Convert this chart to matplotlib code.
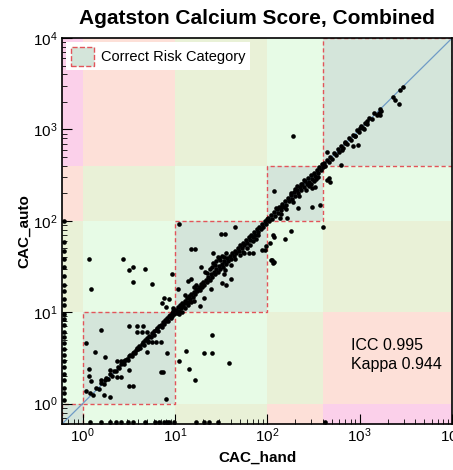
import numpy as np
import matplotlib
matplotlib.use("Agg")
import matplotlib.pyplot as plt
from matplotlib.patches import Rectangle, Patch

plt.rcParams['font.family'] = ['Liberation Sans', 'DejaVu Sans']
plt.rcParams['mathtext.fontset'] = 'custom'
plt.rcParams['mathtext.rm'] = 'Liberation Sans'

# risk category bounds (0, 1-10, 10-100, 100-400, >400)
bounds = [0.6, 1, 10, 100, 400, 10000]
zero_value = 0.63   # where a score of 0 is drawn on the log axes

# points close to agreement
diag_hand = [1.2, 1.3, 1.4, 1.5, 1.6, 1.7, 1.8, 1.9, 2.0, 2.1, 2.2, 2.3, 2.4, 2.5, 2.6, 2.7, 2.8, 2.9,
             3.0, 3.1, 3.2, 3.3, 3.4, 3.5, 3.6, 3.7, 3.8, 3.9, 4.0, 4.1, 4.2, 4.4, 4.5, 4.6, 4.8, 5.0,
             5.1, 5.3, 5.5, 5.7, 5.9, 6.0, 6.2, 6.4, 6.6, 6.8, 7.0, 7.2, 7.4, 7.6, 7.8, 8.0, 8.2, 8.4,
             8.6, 8.8, 9.0, 9.2, 9.4, 9.6, 9.8,
             10.2, 10.5, 10.8, 11.0, 11.3, 11.6, 12.0, 12.3, 12.7, 13.0, 13.4, 13.8, 14.2, 14.6, 15.0,
             15.5, 16.0, 16.5, 17.0, 17.5, 18.0, 18.5, 19.0, 19.6, 20.2, 20.8, 21.5, 22.2, 23.0, 23.8,
             24.6, 25.4, 26.3, 27.2, 28.1, 29.0, 30.0, 31.0, 32.0, 33.0, 34.2, 35.4, 36.6, 37.8, 39.0,
             40.4, 41.8, 43.2, 44.7, 46.2, 47.8, 49.4, 51.1, 52.9, 54.7, 56.6, 58.5, 60.5, 62.6, 64.7,
             66.9, 69.2, 71.6, 74.0, 76.5, 79.1, 81.8, 84.6, 87.5, 90.5, 93.6, 96.8, 99.0,
             28, 30, 32, 34, 27, 31, 25, 22, 24, 36, 26, 29,
             45, 55, 60, 70, 80, 50, 40, 65, 75, 35,
             11, 12, 13, 14, 9.5, 15, 13, 16, 17,
             102, 105, 109, 113, 117, 121, 126, 130, 135, 140, 145, 150, 156, 161, 167, 173, 180, 186,
             193, 200, 207, 215, 223, 231, 239, 248, 257, 266, 276, 286, 296, 307, 318, 330, 342, 354,
             367, 380, 394, 398,
             200, 210, 230, 250, 180, 260, 280, 300, 320, 350, 340, 140, 160, 190, 220, 123, 142,
             410, 420, 440, 460, 480, 500, 525, 550, 575, 600, 630, 660, 690, 720, 760, 800, 840, 880,
             930, 980, 1030, 1080, 1140, 1200, 1270, 1350, 1430, 1520,
             1640, 1705, 1600, 1640, 2320, 2385, 2670, 2700, 2930, 700, 640, 900, 1000, 1100, 1200, 855]
diag_auto = [1.3, 1.25, 1.5, 1.45, 1.7, 1.65, 1.9, 1.85, 2.1, 2.0, 2.3, 2.25, 2.5, 2.45, 2.7, 2.8, 2.75, 3.0,
             3.1, 3.0, 3.3, 3.4, 3.3, 3.6, 3.7, 3.6, 3.9, 4.1, 4.0, 4.3, 4.1, 4.5, 4.7, 4.4, 5.0, 5.2,
             4.9, 5.5, 5.4, 5.9, 6.2, 5.7, 6.4, 6.8, 6.3, 7.1, 7.3, 6.9, 7.8, 7.4, 8.3, 8.0, 8.6, 8.1,
             9.0, 9.4, 8.7, 9.8, 9.1, 10.3, 9.6,
             10.6, 9.8, 11.5, 10.4, 12.0, 11.1, 12.6, 11.8, 13.4, 12.5, 14.2, 13.1, 15.0, 14.0, 15.9,
             14.8, 16.8, 15.7, 18.0, 16.9, 19.0, 17.6, 20.2, 18.8, 21.4, 19.9, 22.8, 21.2, 24.3, 22.7,
             26.0, 24.3, 27.8, 26.0, 29.8, 27.8, 31.8, 29.7, 33.9, 31.6, 36.2, 33.9, 38.8, 36.2, 41.3,
             38.6, 44.2, 41.3, 47.3, 44.2, 50.6, 47.3, 54.1, 50.6, 57.9, 54.1, 61.9, 57.9, 66.2, 61.9,
             70.8, 66.2, 75.8, 70.8, 81.0, 75.8, 86.6, 81.0, 92.6, 86.6, 99.0, 92.6, 104,
             36, 39, 41, 40, 33, 37, 31, 27, 30, 44, 35, 40,
             38, 46, 50, 60, 70, 42, 33, 55, 64, 29,
             9.5, 10, 11, 12, 11, 13, 15.5, 19, 20,
             108, 99, 116, 106, 124, 114, 134, 122, 143, 132, 154, 141, 165, 151, 177, 163, 191, 175,
             205, 188, 220, 202, 236, 217, 253, 233, 272, 250, 292, 269, 314, 289, 337, 310, 362, 333,
             389, 357, 417, 385,
             225, 240, 250, 280, 200, 220, 240, 250, 270, 300, 290, 120, 135, 160, 185, 137, 143,
             430, 400, 465, 440, 505, 475, 550, 520, 605, 570, 660, 630, 725, 690, 800, 760, 880, 840,
             975, 930, 1080, 1030, 1190, 1150, 1330, 1290, 1500, 1450,
             1660, 1580, 1530, 1430, 2270, 2120, 1885, 2670, 2910, 720, 600, 850, 1050, 1000, 1250, 665]

# points with clear disagreement
off_hand = [1.6, 1.1, 1.36, 1.75, 1.17, 1.17, 1.22, 1.1, 1.57, 1.75, 1.7, 2.0, 2.35, 2.6, 2.0, 2.35,
            2.6, 2.8, 3.2, 3.2, 3.55, 3.2, 3.9, 4.5, 3.9, 4.4, 5.0, 5.1, 5.7, 6.2, 7.0, 5.0, 8.2, 7.0,
            8.0, 11.1, 25, 13.3, 20.8, 25.4, 14.1, 38.6, 16.6, 7.5,
            1.17, 1.22, 2.77, 3.2, 3.55, 3.55, 4.75, 5.7, 11.2, 9.3, 10.9, 7.2, 8.0, 8.6, 7.6,
            31.6, 34.4, 14.9, 16.6, 45, 25.7, 56, 63, 70, 88, 106, 113, 115, 19.2, 21.3, 33.8, 40,
            32.4, 36, 24.6, 13.7, 14.9, 20.5, 18.8, 16.2,
            190, 118, 216, 308, 370, 441, 460, 476, 403, 136, 165, 621, 968, 438, 301, 327,
            182, 157, 115, 118, 97.5, 93.5, 110, 117]
off_auto = [6.4, 4.6, 3.7, 3.2, 2.4, 2.0, 1.75, 1.36, 1.8, 1.8, 1.23, 1.18, 1.95, 1.95, 2.36, 2.95,
            2.95, 2.95, 2.36, 1.58, 1.58, 7.1, 7.1, 7.1, 6.1, 6.1, 6.1, 4.7, 4.7, 4.7, 4.7, 3.7, 3.55, 2.2,
            1.13, 2.95, 5.6, 3.8, 3.6, 3.6, 2.4, 2.8, 1.8, 2.2,
            38, 17.8, 38, 29, 31, 21.7, 29.6, 20.5, 92, 26, 18, 12.5, 11.5, 13.8, 14.5,
            72, 72, 49, 49, 85, 45, 44.6, 44.6, 44.6, 47.5, 57, 37, 35, 31.4, 27.4, 26, 23.4,
            20.7, 19.8, 17.8, 22, 23, 14.5, 11.7, 13.3,
            845, 212, 140, 141, 149, 277, 293, 267, 85, 107, 107, 406, 670, 567, 227, 236,
            77, 64, 70, 67, 52.6, 48.4, 37.6, 35.5]

# auto score of cases the hand reading scored 0
hand_zero_auto = [1.1, 1.3, 1.5, 1.8, 2.1, 2.5, 2.9, 3.4, 4.0, 4.6, 5.3, 6.1, 7.2, 8.5, 9.5,
                  12, 14, 17, 20, 25, 31, 38, 47, 58, 100]
# hand score of cases the auto reading scored 0
auto_zero_hand = [1.19, 1.57, 2.0, 2.28, 2.59, 3.08, 3.49, 4.72, 6.07, 6.7, 7.6, 8.2, 8.6, 9.75,
                  16.9, 20.7, 23.4, 29.3, 417]

c_diag = '#d4e5da'
dist_colors = [c_diag, '#e7fbe6', '#e9f1d7', '#fde0d8', '#fbd0ea']
c_red = '#e2545a'

fig = plt.figure(figsize=(4.53, 4.70), dpi=100)
ax = fig.add_axes([0.137, 0.098, 0.861, 0.821])
ax.set_xscale('log')
ax.set_yscale('log')

ncat = len(bounds) - 1
for i in range(ncat):
    for j in range(ncat):
        x0, x1 = bounds[i], bounds[i + 1]
        y0, y1 = bounds[j], bounds[j + 1]
        ax.add_patch(Rectangle((x0, y0), x1 - x0, y1 - y0, facecolor=dist_colors[abs(i - j)],
                               edgecolor='none', zorder=0))
for i in range(ncat):
    x0, x1 = bounds[i], bounds[i + 1]
    ax.add_patch(Rectangle((x0, x0), x1 - x0, x1 - x0, facecolor='none', edgecolor=c_red,
                           linestyle=(0, (3, 2)), linewidth=1.0, zorder=1))

ax.plot([bounds[0], bounds[-1]], [bounds[0], bounds[-1]], color='#6f9bc6', lw=0.9, zorder=2)

x_all = diag_hand + off_hand + [zero_value] * len(hand_zero_auto) + auto_zero_hand
y_all = diag_auto + off_auto + hand_zero_auto + [zero_value] * len(auto_zero_hand)
ax.scatter(x_all, y_all, s=11, color='black', linewidths=0, zorder=3, clip_on=True)

ax.set_xlim(bounds[0], bounds[-1])
ax.set_ylim(bounds[0], bounds[-1])
ax.tick_params(direction='in', which='both', top=False, right=False, labelsize=11)
ax.tick_params(axis='x', pad=2)
ax.tick_params(which='major', length=7)
ax.tick_params(which='minor', length=3.5)
for s in ax.spines.values():
    s.set_linewidth(1.2)

ax.set_title('Agatston Calcium Score, Combined', fontsize=15, fontweight='bold', pad=10)
ax.set_xlabel('CAC_hand', fontsize=11, fontweight='bold', labelpad=4)
ax.set_ylabel('CAC_auto', fontsize=11, fontweight='bold', labelpad=1)

ax.text(800, 3.4, 'ICC 0.995\nKappa 0.944', fontsize=11.5, va='center', ha='left', linespacing=1.3)

handle = Patch(facecolor=c_diag, edgecolor=c_red, linestyle='--', linewidth=1.0)
leg = ax.legend([handle], ['Correct Risk Category'], loc='upper left', fontsize=10.5,
                frameon=True, fancybox=False, borderaxespad=0.3, handlelength=1.6,
                handleheight=1.6, handletextpad=0.5, borderpad=0.3)
leg.get_frame().set_facecolor('white')
leg.get_frame().set_edgecolor('none')
leg.get_frame().set_alpha(1.0)

fig.savefig('out.png', dpi=100)
